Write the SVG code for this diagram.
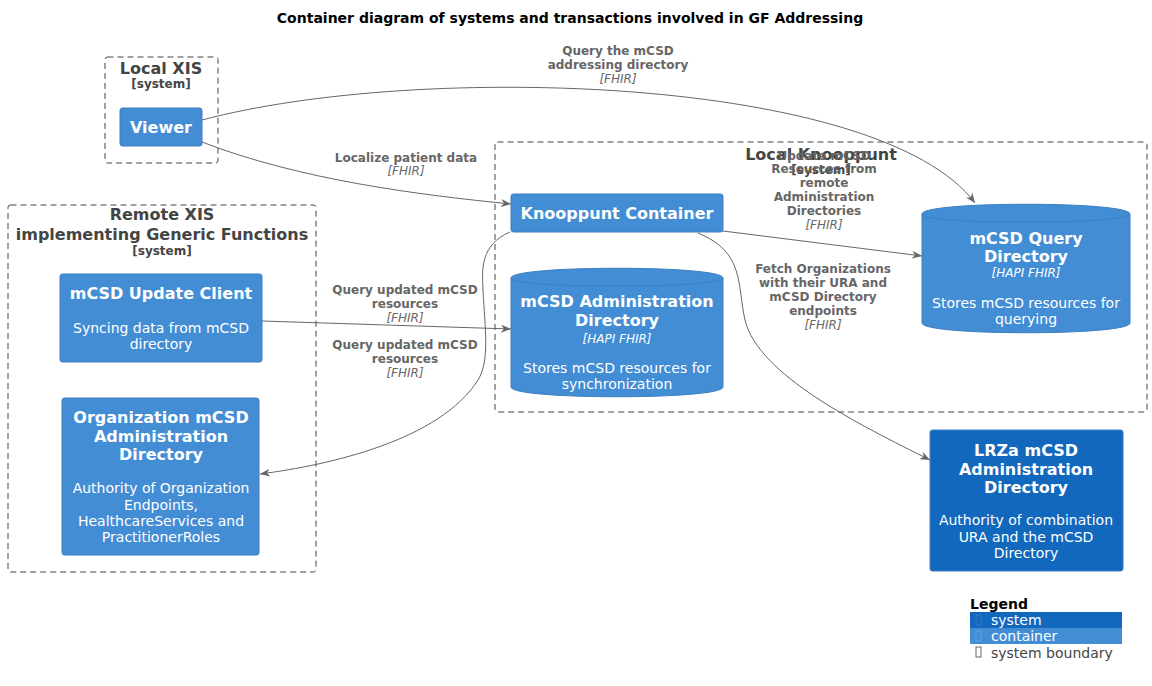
<svg xmlns="http://www.w3.org/2000/svg" width="1152" height="686" viewBox="0 0 1152 686">
<defs>
<style>
text{font-family:"DejaVu Sans","Liberation Sans",sans-serif;}
.title{font-size:14px;font-weight:bold;fill:#000;text-anchor:middle;}
.bnd{fill:none;stroke:#444;stroke-width:1;stroke-dasharray:6,4;}
.bt{font-size:16px;font-weight:bold;fill:#444;text-anchor:middle;}
.bs{font-size:12px;font-weight:bold;fill:#444;text-anchor:middle;}
.cont{fill:#438DD5;stroke:#3C7FC0;stroke-width:1;}
.sys{fill:#1168BD;stroke:#3C7FC0;stroke-width:1;}
.nt{font-size:16px;font-weight:bold;fill:#fff;text-anchor:middle;}
.nd{font-size:14px;fill:#fff;text-anchor:middle;}
.ntech{font-size:12px;font-style:italic;fill:#fff;text-anchor:middle;}
.rel{fill:none;stroke:#666;stroke-width:1;marker-end:url(#arr);}
.rl{font-size:12px;font-weight:bold;fill:#666;text-anchor:middle;}
.rt{font-size:12px;font-style:italic;fill:#666;text-anchor:middle;}
.lg{font-size:14px;fill:#fff;}
</style>
<marker id="arr" viewBox="0 0 10 8" refX="10" refY="4" markerWidth="10" markerHeight="8" markerUnits="userSpaceOnUse" orient="auto">
<path d="M0,0 L10,4 L0,8 L3,4 Z" fill="#666"/>
</marker>
</defs>
<rect width="1152" height="686" fill="#fff"/>
<text class="title" x="570" y="23">Container diagram of systems and transactions involved in GF Addressing</text>

<g id="local-xis">
<rect class="bnd" x="105" y="57" width="113" height="106" rx="2.5"/>
<text class="bt" x="161" y="74">Local XIS</text>
<text class="bs" x="161" y="88">[system]</text>
</g>

<g id="local-knooppunt">
<rect class="bnd" x="495" y="142" width="652" height="270" rx="2.5"/>
<text class="bt" x="821" y="160">Local Knooppunt</text>
<text class="bs" x="821" y="174">[system]</text>
</g>

<g id="remote-xis">
<rect class="bnd" x="8" y="205" width="308" height="367" rx="2.5"/>
<text class="bt" x="162" y="220">Remote XIS</text>
<text class="bt" x="162" y="240">implementing Generic Functions</text>
<text class="bs" x="162" y="255">[system]</text>
</g>

<g id="viewer">
<rect class="cont" x="120" y="108" width="82" height="38" rx="2.5"/>
<text class="nt" x="161" y="133">Viewer</text>
</g>

<g id="knooppunt-container">
<rect class="cont" x="511" y="194" width="212" height="38" rx="2.5"/>
<text class="nt" x="617" y="219">Knooppunt Container</text>
</g>

<g id="mcsd-admin-dir">
<path class="cont" d="M511,278 C511,265 723,265 723,278 L723,387 C723,400 511,400 511,387 Z"/>
<path d="M511,278 C511,289 723,289 723,278" fill="none" stroke="#3C7FC0" stroke-width="1"/>
<text class="nt" x="617" y="307">mCSD Administration</text>
<text class="nt" x="617" y="326">Directory</text>
<text class="ntech" x="617" y="343">[HAPI FHIR]</text>
<text class="nd" x="617" y="373">Stores mCSD resources for</text>
<text class="nd" x="617" y="389">synchronization</text>
</g>

<g id="mcsd-query-dir">
<path class="cont" d="M922,214 C922,201 1130,201 1130,214 L1130,323 C1130,336 922,336 922,323 Z"/>
<path d="M922,214 C922,225 1130,225 1130,214" fill="none" stroke="#3C7FC0" stroke-width="1"/>
<text class="nt" x="1026" y="244">mCSD Query</text>
<text class="nt" x="1026" y="262">Directory</text>
<text class="ntech" x="1026" y="277">[HAPI FHIR]</text>
<text class="nd" x="1026" y="308">Stores mCSD resources for</text>
<text class="nd" x="1026" y="324">querying</text>
</g>

<g id="lrza">
<rect class="sys" x="930" y="430" width="193" height="141" rx="2.5"/>
<text class="nt" x="1026" y="456">LRZa mCSD</text>
<text class="nt" x="1026" y="475">Administration</text>
<text class="nt" x="1026" y="493">Directory</text>
<text class="nd" x="1026" y="525">Authority of combination</text>
<text class="nd" x="1026" y="542">URA and the mCSD</text>
<text class="nd" x="1026" y="558">Directory</text>
</g>

<g id="mcsd-update-client">
<rect class="cont" x="60" y="274" width="202" height="88" rx="2.5"/>
<text class="nt" x="161" y="299">mCSD Update Client</text>
<text class="nd" x="161" y="333">Syncing data from mCSD</text>
<text class="nd" x="161" y="349">directory</text>
</g>

<g id="org-mcsd-admin-dir">
<rect class="cont" x="62" y="398" width="197" height="157" rx="2.5"/>
<text class="nt" x="161" y="423">Organization mCSD</text>
<text class="nt" x="161" y="442">Administration</text>
<text class="nt" x="161" y="460">Directory</text>
<text class="nd" x="161" y="493">Authority of Organization</text>
<text class="nd" x="161" y="510">Endpoints,</text>
<text class="nd" x="161" y="526">HealthcareServices and</text>
<text class="nd" x="161" y="542">PractitionerRoles</text>
</g>

<g id="connectors">
<path class="rel" d="M202,120 C420,62 880,76 975,203"/>
<text class="rl" x="618" y="55">Query the mCSD</text>
<text class="rl" x="618" y="69">addressing directory</text>
<text class="rt" x="618" y="83">[FHIR]</text>

<path class="rel" d="M202,142 C300,180 420,195 511,204"/>
<text class="rl" x="406" y="162">Localize patient data</text>
<text class="rt" x="406" y="175">[FHIR]</text>

<path class="rel" d="M723,231 L922,256"/>
<text class="rl" x="824" y="160">Update mCSD</text>
<text class="rl" x="824" y="173">Resources from</text>
<text class="rl" x="824" y="187">remote</text>
<text class="rl" x="824" y="201">Administration</text>
<text class="rl" x="824" y="215">Directories</text>
<text class="rt" x="824" y="229">[FHIR]</text>

<path class="rel" d="M698,233 C745,252 737,285 745,320 C758,375 860,425 930,460"/>
<text class="rl" x="823" y="273">Fetch Organizations</text>
<text class="rl" x="823" y="287">with their URA and</text>
<text class="rl" x="823" y="301">mCSD Directory</text>
<text class="rl" x="823" y="315">endpoints</text>
<text class="rt" x="823" y="329">[FHIR]</text>

<path class="rel" d="M262,321 L511,329"/>
<text class="rl" x="405" y="294">Query updated mCSD</text>
<text class="rl" x="405" y="308">resources</text>
<text class="rt" x="405" y="322">[FHIR]</text>

<path class="rel" d="M510,232 C480,245 482,270 483,290 C485,330 490,360 478,380 C440,440 330,465 260,474"/>
<text class="rl" x="405" y="349">Query updated mCSD</text>
<text class="rl" x="405" y="363">resources</text>
<text class="rt" x="405" y="377">[FHIR]</text>
</g>

<g id="legend">
<text x="970" y="609" font-size="14" font-weight="bold" fill="#000">Legend</text>
<rect x="970" y="612" width="152" height="16" fill="#1168BD"/>
<rect x="976" y="615" width="5" height="10" fill="none" stroke="#3E7BC0" stroke-width="0.8"/>
<text class="lg" x="991" y="625">system</text>
<rect x="970" y="628" width="152" height="16" fill="#438DD5"/>
<rect x="976" y="631" width="5" height="10" fill="none" stroke="#6AA5DE" stroke-width="0.8"/>
<text class="lg" x="991" y="641">container</text>
<rect x="976" y="647" width="5" height="10" fill="none" stroke="#444" stroke-width="0.8"/>
<text x="991" y="658" font-size="14" fill="#444">system boundary</text>
</g>
</svg>
